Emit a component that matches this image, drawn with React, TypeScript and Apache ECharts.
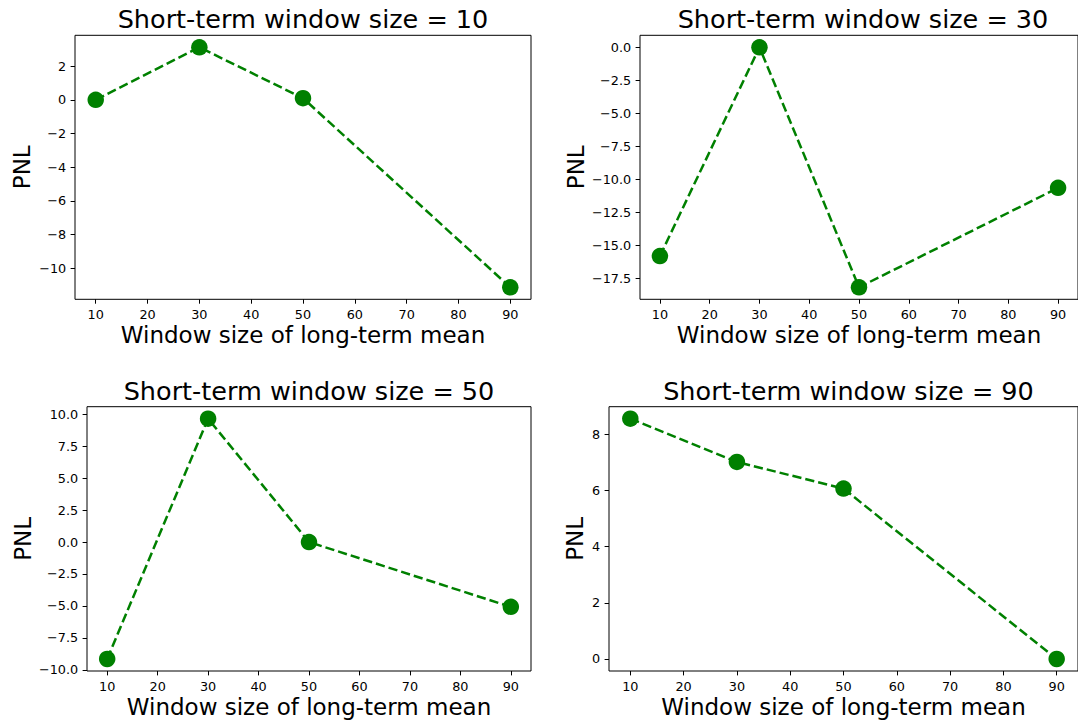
import React, { useEffect, useRef } from "react";
import * as echarts from "echarts";

const longWindows = [10, 30, 50, 90];
const shortWindows = [10, 30, 50, 90];
const pnl10 = [0.0, 3.12, 0.1, -11.13];
const pnl30 = [-15.83, 0.0, -18.2, -10.66];
const pnl50 = [-9.15, 9.65, 0.0, -5.07];
const pnl90 = [8.56, 7.02, 6.07, 0.0];
const xTicks = [10, 20, 30, 40, 50, 60, 70, 80, 90];
const yTicks10 = [-10, -8, -6, -4, -2, 0, 2];
const yTicks30 = [-17.5, -15, -12.5, -10, -7.5, -5, -2.5, 0];
const yTicks50 = [-10, -7.5, -5, -2.5, 0, 2.5, 5, 7.5, 10];
const yTicks90 = [0, 2, 4, 6, 8];
const titleText = "Short-term window size = ";
const xName = "Window size of long-term mean";
const yName = "PNL";

const FONT = "DejaVu Sans";
const GREEN = "#008000";

export default function App() {
  const ref = useRef<HTMLDivElement>(null);
  useEffect(() => {
    if (!ref.current) return;
    const chart = echarts.init(ref.current, undefined, { renderer: "svg" });

    const panels = [
      { data: pnl10, ticks: yTicks10, dec: 0, grid: { left: 75, top: 35.3, width: 456, height: 264 }, yGap: 41.5 },
      { data: pnl30, ticks: yTicks30, dec: 1, grid: { left: 640, top: 35.3, width: 446, height: 264 }, yGap: 52.8 },
      { data: pnl50, ticks: yTicks50, dec: 1, grid: { left: 87, top: 406.7, width: 444, height: 264.3 }, yGap: 52.5 },
      { data: pnl90, ticks: yTicks90, dec: 0, grid: { left: 609, top: 406.7, width: 479, height: 264.3 }, yGap: 22.5 },
    ];

    const fmt = (v: number, dec: number) => {
      const s = Math.abs(v) < 1e-9 ? (0).toFixed(dec) : v.toFixed(dec);
      return s.replace("-", "\u2212");
    };

    const xMinRaw = Math.min(...longWindows);
    const xMaxRaw = Math.max(...longWindows);
    const xPad = (xMaxRaw - xMinRaw) * 0.05;

    const grids: any[] = [];
    const xAxes: any[] = [];
    const yAxes: any[] = [];
    const series: any[] = [];
    const titles: any[] = [];

    panels.forEach((p, i) => {
      grids.push({ ...p.grid, show: true, borderColor: "#000", borderWidth: 1, backgroundColor: "#fff" });
      const lo = Math.min(...p.data);
      const hi = Math.max(...p.data);
      const pad = (hi - lo) * 0.05;
      const common = {
        gridIndex: i,
        type: "value",
        splitLine: { show: false },
        axisLine: { show: false, onZero: false },
        axisTick: { show: true, inside: false, length: 4.4, lineStyle: { color: "#000", width: 1 } },
      };
      xAxes.push({
        ...common,
        position: "bottom",
        min: xMinRaw - xPad,
        max: xMaxRaw + xPad,
        axisTick: { ...common.axisTick, customValues: xTicks },
        axisLabel: {
          customValues: xTicks,
          margin: 8.8,
          color: "#000",
          fontFamily: FONT,
          fontSize: 12.8,
          formatter: (v: number) => fmt(v, 0),
        },
        name: xName,
        nameLocation: "middle",
        nameGap: 24.5,
        nameTextStyle: { fontFamily: FONT, fontSize: 23, color: "#000" },
      });
      yAxes.push({
        ...common,
        position: "left",
        min: lo - pad,
        max: hi + pad,
        axisTick: { ...common.axisTick, customValues: p.ticks },
        axisLabel: {
          customValues: p.ticks,
          margin: 8.8,
          color: "#000",
          fontFamily: FONT,
          fontSize: 12.8,
          formatter: (v: number) => fmt(v, p.dec),
        },
        name: yName,
        nameLocation: "middle",
        nameGap: p.yGap,
        nameTextStyle: { fontFamily: FONT, fontSize: 23, color: "#000" },
      });
      series.push({
        type: "line",
        xAxisIndex: i,
        yAxisIndex: i,
        data: longWindows.map((x, k) => [x, p.data[k]]),
        symbol: "circle",
        symbolSize: 16.5,
        itemStyle: { color: GREEN },
        lineStyle: { color: GREEN, width: 2.5, type: [9.25, 4] },
        clip: false,
        z: 3,
      });
      titles.push({
        text: titleText + shortWindows[i],
        left: p.grid.left + p.grid.width / 2,
        top: p.grid.top - 7.5 - 0.346 * 25.5 - 12.75,
        textAlign: "center",
        padding: 0,
        textStyle: { fontFamily: FONT, fontSize: 25.5, fontWeight: "normal", color: "#000" },
      });
    });

    chart.setOption({
      animation: false,
      backgroundColor: "#fff",
      title: titles,
      grid: grids,
      xAxis: xAxes,
      yAxis: yAxes,
      series,
    });
    return () => chart.dispose();
  }, []);

  return (
    <div
      ref={ref}
      style={{ position: "absolute", left: 0, top: 0, width: 1078, height: 724 }}
    />
  );
}
